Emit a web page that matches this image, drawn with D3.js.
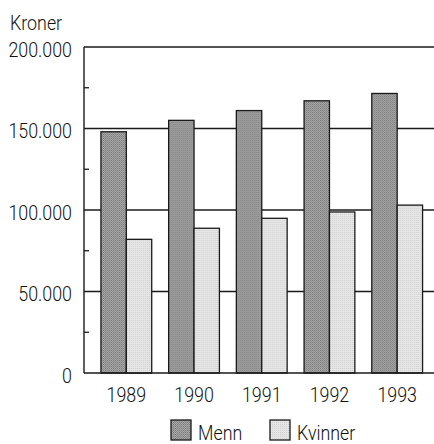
<!DOCTYPE html>
<html>
<head>
<meta charset="utf-8">
<script src="https://cdn.jsdelivr.net/npm/d3@7"></script>
<style>
  body { margin: 0; background: #fff; }
  text { font-family: Roboto, "Liberation Sans", Arial, sans-serif; font-weight: 300; fill: #111; font-size: 21px; }
</style>
</head>
<body>
<script>
var years = ["1989", "1990", "1991", "1992", "1993"];
var menn = [148000, 155000, 161000, 167000, 171500];
var kvinner = [82000, 88800, 94900, 98800, 103000];
var seriesNames = ["Menn", "Kvinner"];
var yTicks = [0, 50000, 100000, 150000, 200000];
var minorTicks = [25000, 75000, 125000, 175000];

var width = 434, height = 444;
var plotLeft = 84, plotTop = 47, plotBottom = 373;
var squeeze = 0.85; // the original type is a narrow grotesque

var svg = d3.select("body").append("svg")
    .attr("width", width)
    .attr("height", height);

// dithered fills
var defs = svg.append("defs");
var pd = defs.append("pattern").attr("id", "pMenn")
    .attr("width", 2).attr("height", 2).attr("patternUnits", "userSpaceOnUse");
pd.append("rect").attr("width", 2).attr("height", 2).attr("fill", "#a8a8a8");
pd.append("rect").attr("width", 1).attr("height", 1).attr("fill", "#7a7a7a");
pd.append("rect").attr("x", 1).attr("y", 1).attr("width", 1).attr("height", 1).attr("fill", "#8c8c8c");
var pl = defs.append("pattern").attr("id", "pKvinner")
    .attr("width", 2).attr("height", 2).attr("patternUnits", "userSpaceOnUse");
pl.append("rect").attr("width", 2).attr("height", 2).attr("fill", "#e6e6e6");
pl.append("rect").attr("width", 1).attr("height", 1).attr("fill", "#cfcfcf");

var fills = {"Menn": "url(#pMenn)", "Kvinner": "url(#pKvinner)"};

var y = d3.scaleLinear().domain([0, 200000]).range([plotBottom, plotTop]);
var x = d3.scaleBand().domain(years).range([plotLeft, 439.5])
    .paddingInner(0.25).paddingOuter(0.25);
var xs = d3.scaleBand().domain(seriesNames).range([0, x.bandwidth()]);

var fmt = function(d) { return d === 0 ? "0" : d3.format(",")(d).replace(/,/g, "."); };

function place(px, py) {
    return "translate(" + px + "," + py + ") scale(" + squeeze + ",1)";
}

// gridlines
svg.selectAll(".grid")
    .data(yTicks.filter(function(d) { return d > 0; }))
  .enter().append("line")
    .attr("x1", plotLeft).attr("x2", width)
    .attr("y1", function(d) { return y(d); })
    .attr("y2", function(d) { return y(d); })
    .attr("stroke", "#1a1a1a").attr("stroke-width", 1.3);

// minor ticks
svg.selectAll(".minor")
    .data(minorTicks)
  .enter().append("line")
    .attr("x1", plotLeft).attr("x2", plotLeft + 5)
    .attr("y1", function(d) { return y(d); })
    .attr("y2", function(d) { return y(d); })
    .attr("stroke", "#1a1a1a").attr("stroke-width", 1.3);

// bars
var rows = years.map(function(yr, i) {
    return [{year: yr, s: "Menn", v: menn[i]}, {year: yr, s: "Kvinner", v: kvinner[i]}];
});
svg.selectAll(".grp")
    .data(rows)
  .enter().append("g")
    .attr("transform", function(d) { return "translate(" + x(d[0].year) + ",0)"; })
  .selectAll("rect")
    .data(function(d) { return d; })
  .enter().append("rect")
    .attr("x", function(d) { return xs(d.s); })
    .attr("y", function(d) { return y(d.v); })
    .attr("width", xs.bandwidth())
    .attr("height", function(d) { return plotBottom - y(d.v); })
    .attr("fill", function(d) { return fills[d.s]; })
    .attr("stroke", "#1a1a1a").attr("stroke-width", 1.3);

// axes lines
svg.append("line").attr("x1", plotLeft).attr("x2", plotLeft).attr("y1", plotTop).attr("y2", plotBottom)
    .attr("stroke", "#1a1a1a").attr("stroke-width", 1.4);
svg.append("line").attr("x1", plotLeft).attr("x2", width).attr("y1", plotBottom).attr("y2", plotBottom)
    .attr("stroke", "#1a1a1a").attr("stroke-width", 1.4);

// y labels
svg.selectAll(".ylab")
    .data(yTicks)
  .enter().append("text")
    .attr("transform", function(d) { return place(72, y(d) + 9.5); })
    .attr("text-anchor", "end")
    .text(fmt);

svg.append("text").attr("transform", place(10, 30)).text("Kroner");

// x labels
svg.selectAll(".xlab")
    .data(years)
  .enter().append("text")
    .attr("transform", function(d) { return place(x(d) + x.bandwidth() / 2, 401.5); })
    .attr("text-anchor", "middle")
    .text(function(d) { return d; });

// legend
var legX = [171, 270];
var leg = svg.selectAll(".leg")
    .data(seriesNames)
  .enter().append("g")
    .attr("transform", function(d, i) { return "translate(" + legX[i] + ",420)"; });
leg.append("rect")
    .attr("width", 20).attr("height", 20)
    .attr("fill", function(d) { return fills[d]; })
    .attr("stroke", "#1a1a1a").attr("stroke-width", 1.3);
leg.append("text")
    .attr("transform", place(27, 20))
    .text(function(d) { return d; });
</script>
</body>
</html>
